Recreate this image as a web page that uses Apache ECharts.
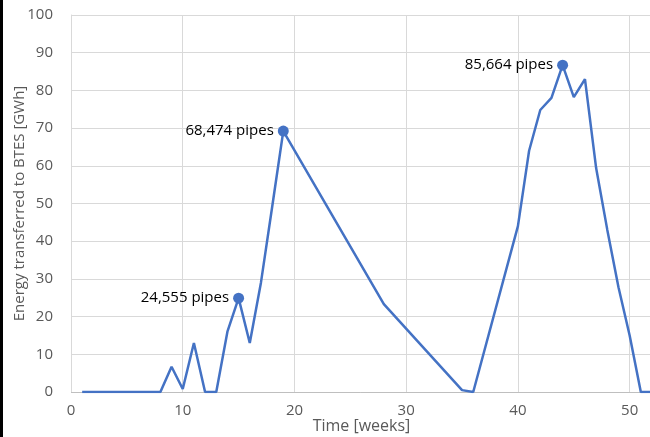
<!DOCTYPE html>
<html><head><meta charset="utf-8">
<script src="https://cdn.jsdelivr.net/npm/echarts@6/dist/echarts.min.js"></script>
<style>html,body{margin:0;padding:0;background:#fff}#c{width:650px;height:437px}</style>
</head><body><div id="c"></div>
<script>
const weeks = [1,2,3,4,5,6,7,8,9,10,11,12,13,14,15,16,17,18,19,28,35,36,40,41,42,43,44,45,46,47,48,49,50,51,52];
const energy = [0,0,0,0,0,0,0,0,6.7,0.8,13,0,0,16,24.9,13,29,49,69.2,23.3,0.5,0,44,64,74.8,78,86.7,78.2,83,59.4,43,27.8,15,0,0];
const labelWeeks = [15,19,44];
const labelValues = [24.9,69.2,86.7];
const labelTexts = ['24,555 pipes','68,474 pipes','85,664 pipes'];

const chart = echarts.init(document.getElementById('c'), null, {renderer:'canvas'});
const font = 'Open Sans';
chart.setOption({
  animation:false,
  grid:{left:71,right:-2,top:15,bottom:45,outerBoundsMode:'none',containLabel:false},
  xAxis:{type:'value',min:0,max:52,interval:10,
    axisLine:{show:false},axisTick:{show:false},
    splitLine:{show:true,lineStyle:{color:'#d9d9d9',width:1}},
    axisLabel:{color:'#595959',fontFamily:font,fontSize:15,margin:11,
      formatter:v=>v%10===0?String(v):''},
    name:'Time [weeks]',nameLocation:'middle',nameGap:26,nameMoveOverlap:false,
    nameTextStyle:{color:'#595959',fontFamily:font,fontSize:16}},
  yAxis:{type:'value',min:0,max:100,interval:10,
    axisLine:{show:true,lineStyle:{color:'#d9d9d9'}},axisTick:{show:false},
    splitLine:{lineStyle:{color:'#d9d9d9',width:1}},
    axisLabel:{color:'#595959',fontFamily:font,fontSize:15,margin:18},
    name:'Energy transferred to BTES [GWh]',nameLocation:'middle',nameGap:44,nameMoveOverlap:false,
    nameTextStyle:{color:'#595959',fontFamily:font,fontSize:15}},
  graphic:[{type:'rect',shape:{x:0,y:0,width:3,height:437},style:{fill:'#000'}},
    {type:'line',shape:{x1:71,y1:392.5,x2:650,y2:392.5},style:{stroke:'#bfbfbf',lineWidth:1},z:1}],
  series:[
    {type:'line',data:weeks.map((w,i)=>[w,energy[i]]),showSymbol:false,
      lineStyle:{color:'#4472C4',width:2.5},z:3},
    {type:'scatter',data:labelWeeks.map((w,i)=>({value:[w,labelValues[i]],label:{formatter:labelTexts[i]}})),
      symbolSize:11,itemStyle:{color:'#4472C4',opacity:1},z:4,
      label:{show:true,position:'left',distance:4,color:'#000',fontFamily:font,fontSize:15}}
  ]
});
</script></body></html>
